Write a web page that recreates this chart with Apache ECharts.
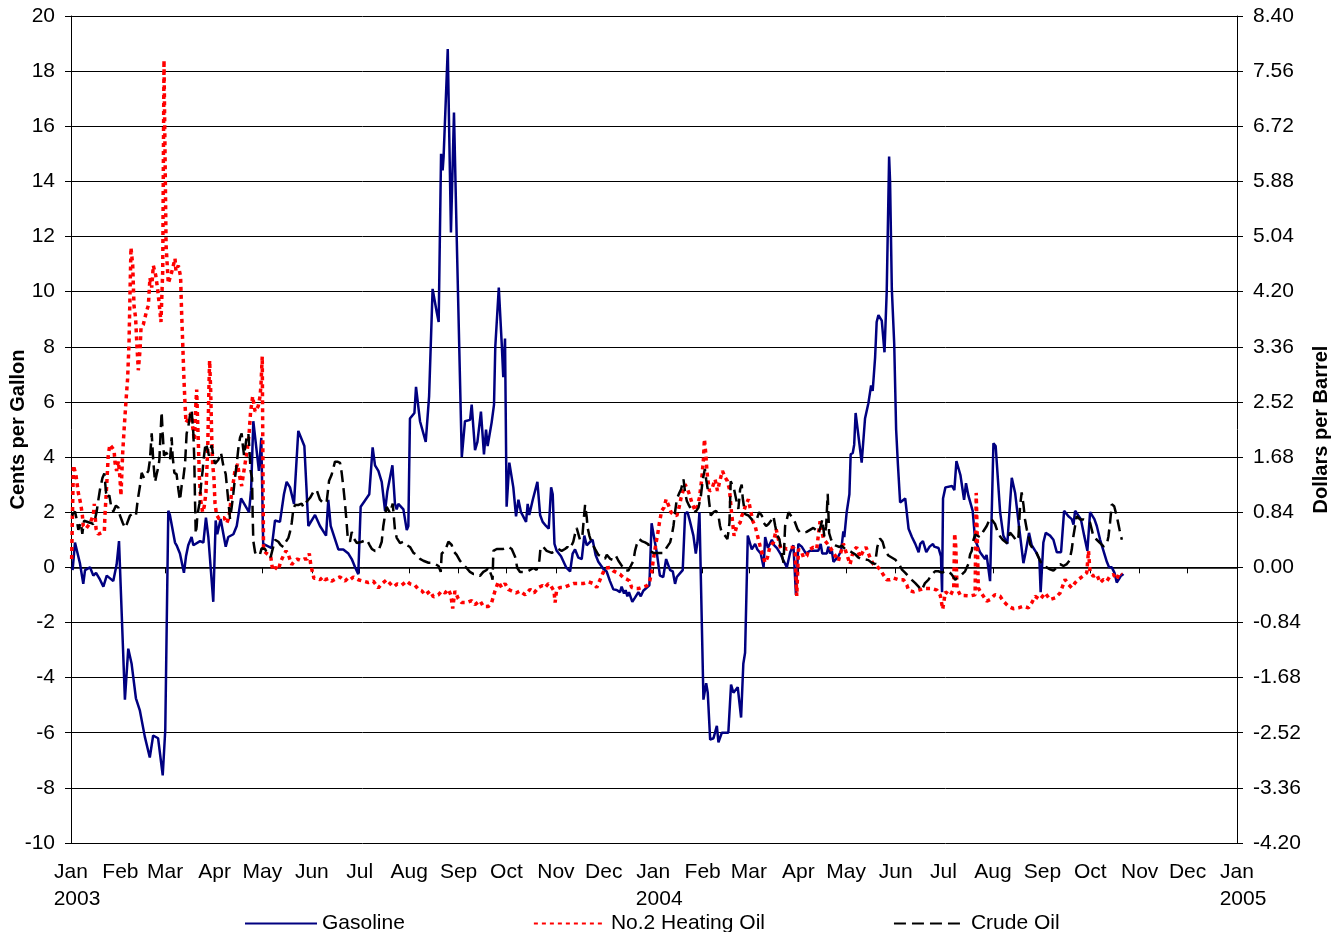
<!DOCTYPE html>
<html>
<head>
<meta charset="utf-8">
<script src="https://cdn.jsdelivr.net/npm/echarts@6/dist/echarts.min.js"></script>
<style>
  html, body { margin: 0; padding: 0; background: #fff; }
  #main { width: 1343px; height: 932px; }
</style>
</head>
<body>
<div id="main"></div>
<script>
// x = days since 1 Jan 2003
const monthNames = ["Jan", "Feb", "Mar", "Apr", "May", "Jun", "Jul", "Aug", "Sep", "Oct", "Nov", "Dec"];
const years = [2003, 2004, 2005];

// cents per gallon
const gasoline = [
  [1, -0.1], [2.5, 0.9], [5.6, 0.15], [7.7, -0.6], [8.8, -0.1], [11.9, 0.0], [13, 0.05], [14, -0.3], [15.7, -0.2],
  [18.2, -0.45], [20.3, -0.7], [22.4, -0.3], [24.5, -0.4], [26.5, -0.5], [28.6, 0.1], [30.1, 0.95], [31.1, 0.95],
  [33.8, -4.8], [35.9, -2.95], [38, -3.5], [40.7, -4.75], [43.2, -5.2], [46.3, -6.15], [49.4, -6.9], [51.5, -6.1],
  [54.6, -6.2], [57.5, -7.55], [59.1, -5.9], [61, 2.05], [62, 1.9], [65.2, 0.9], [66.2, 0.8], [68.3, 0.5], [70.8, -0.2],
  [72.1, 0.4], [73.5, 0.8], [75.6, 1.1], [76.7, 0.8], [80.9, 0.95], [83, 0.9], [84.6, 1.8], [86.1, 1.1], [89.2, -1.25],
  [90.7, 1.7], [91.7, 1.2], [93.8, 1.75], [97, 0.75], [98.6, 1.1], [101.8, 1.2], [103.9, 1.5], [106.6, 2.5], [111.6, 2.0],
  [112.9, 2.8], [114.3, 5.3], [117.8, 3.5], [119.3, 4.7], [120.5, 0.85], [125.8, 0.7], [127.9, 1.7], [131, 1.65],
  [133.5, 2.65], [135.2, 3.1], [137.3, 2.9], [139.8, 2.3], [142.5, 4.95], [146.3, 4.4], [148.8, 1.5], [153, 1.9],
  [156.1, 1.5], [159.9, 1.15], [161.3, 2.45], [162.8, 1.5], [167.6, 0.65], [170.7, 0.65], [173.9, 0.5], [176, 0.3],
  [178.1, 0.0], [180.1, -0.25], [181.6, 2.2], [184, 2.4], [187, 2.65], [189.1, 4.35], [190.6, 3.7], [192.7, 3.5],
  [194.8, 3.1], [196.9, 2.05], [198.3, 2.75], [201.5, 3.7], [203.1, 2.3], [204.2, 2.1], [205.2, 2.3], [208.4, 2.1],
  [210.5, 1.35], [211.5, 1.5], [212.5, 5.4], [215.3, 5.6], [216.3, 6.55], [218.8, 5.3], [222.4, 4.55], [224.5, 6.2],
  [226.7, 10.1], [229.3, 9.25], [230.5, 8.9], [232, 15.0], [233, 14.4], [233.6, 14.9], [236.2, 18.8], [238.2, 12.15],
  [240.1, 16.5], [241.8, 12.0], [245, 4.0], [247, 5.3], [250.2, 5.35], [251.2, 5.9], [253.3, 4.25], [254.8, 4.55],
  [257, 5.65], [258.9, 4.1], [260.2, 5.0], [261.2, 4.4], [263.7, 5.25], [265.2, 5.9], [266, 8.0], [268.2, 10.15],
  [270, 8.15], [271, 6.9], [272.1, 8.3], [273.1, 2.2], [274.8, 3.8], [277.3, 2.9], [279, 1.85], [280.5, 2.45],
  [282.1, 2.0], [285.3, 1.65], [286.3, 2.3], [287.3, 1.9], [289.5, 2.45], [292.4, 3.1], [294.1, 1.9], [295.7, 1.65],
  [297.8, 1.5], [299.5, 1.4], [301, 2.9], [302, 2.65], [303.1, 0.85], [304.5, 0.6], [307.2, 0.4], [310.4, 0.0],
  [312.9, -0.15], [314.5, 0.5], [316, 0.65], [318.1, 0.35], [320.2, 0.3], [321.8, 1.15], [323.3, 0.8], [325, 0.9],
  [327, 1.0], [328.9, 0.45], [330.6, 0.2], [333.7, -0.05], [335.8, -0.15], [337.9, -0.5], [340, -0.8], [342.1, -0.82],
  [344.2, -0.9], [345.2, -0.7], [346.7, -0.95], [347.7, -0.83], [348.8, -1.05], [349.8, -0.9], [351.9, -1.25],
  [353.6, -1.1], [355.7, -0.9], [357.2, -1.05], [358.8, -0.85], [362.6, -0.65], [364, 1.6], [367.2, 0.55], [369.2, -0.3],
  [371.3, -0.35], [373.1, 0.3], [375.6, -0.1], [377.3, -0.15], [378.7, -0.6], [379.8, -0.35], [383.5, -0.1], [385, 1.95],
  [386.5, 2.0], [387.7, 1.75], [390.2, 1.15], [391.7, 0.5], [392.7, 0.9], [394, 2.0], [396.5, -4.8], [398.2, -4.2],
  [399.2, -4.55], [400.7, -6.25], [402.8, -6.2], [404.9, -5.75], [405.9, -6.35], [408, -6.0], [412.1, -6.0],
  [413.8, -4.25], [415.3, -4.55], [418, -4.35], [420.1, -5.45], [421.5, -3.5], [422.6, -3.1], [424.3, 1.15],
  [425.3, 1.2], [426.8, 0.65], [428.9, 0.85], [430.3, 0.65], [432.4, 0.5], [434.2, 0.0], [435.2, 1.1], [436.9, 0.7],
  [439.4, 1.0], [440.9, 0.8], [442.6, 0.7], [444.7, 0.5], [446.2, 0.3], [448.8, 0.0], [450.9, 0.55], [452.9, 0.8],
  [454.5, -1.0], [456, 0.85], [458.1, 0.75], [460.8, 0.5], [463.3, 0.6], [468.5, 0.6], [470, 0.85], [471, 0.5],
  [473.8, 0.5], [474.8, 0.75], [475.9, 0.5], [477, 0.6], [478, 0.2], [481.1, 0.4], [482.8, 0.6], [484.2, 1.3],
  [484.8, 1.1], [486.3, 2.0], [488, 2.65], [488.8, 4.1], [490.1, 4.15], [491, 4.45], [491.9, 5.6], [493.6, 4.8],
  [495.7, 3.8], [497.8, 5.4], [499.9, 5.95], [501.6, 6.6], [502.6, 6.4], [504.1, 7.6], [505.1, 8.9], [506.2, 9.15],
  [508.3, 8.95], [510, 7.8], [511.4, 10.0], [512.9, 14.9], [513.5, 14.0], [514.6, 10.1], [516.1, 8.1], [517.3, 5.0],
  [518.4, 3.75], [519.8, 2.35], [523, 2.5], [525.1, 1.4], [527.2, 1.1], [529.3, 0.85], [531.4, 0.55], [532.4, 0.85],
  [534.1, 0.95], [536.2, 0.55], [538.3, 0.75], [540.4, 0.85], [541.2, 0.75], [543.9, 0.7], [545.4, 0.4], [546.1, -0.9],
  [546.7, 2.5], [548.2, 2.9], [552.4, 2.95], [553.8, 2.8], [555.1, 3.85], [557.6, 3.35], [559.9, 2.45], [561.1, 3.05],
  [562.6, 2.6], [565.3, 2.05], [566.8, 1.0], [569.9, 0.55], [573, 0.3], [574, 0.45], [576.2, -0.5], [578.3, 4.5],
  [579.7, 4.4], [582.5, 2.0], [584.5, 1.15], [587, 0.85], [589.8, 3.25], [591.9, 2.7], [594.3, 1.5], [597.1, 0.15],
  [598.5, 0.55], [600.6, 1.25], [602.3, 0.8], [605, 0.55], [607.1, 0.3], [607.9, -0.9], [609.6, 0.9], [611.1, 1.25],
  [613.8, 1.15], [615.9, 1.0], [618, 0.55], [620.7, 0.55], [622.6, 2.05], [625.3, 1.85], [627.4, 1.75], [628.5, 1.55],
  [629.5, 2.05], [630.5, 2.05], [633.1, 1.75], [635.2, 1.15], [637.2, 0.6], [638.9, 2.0], [641.6, 1.75], [643.1, 1.5],
  [645.2, 1.0], [647.3, 0.6], [649.4, 0.2], [650.8, 0.0], [652.5, 0.0], [654.2, -0.2], [655.6, -0.55], [657.3, -0.4],
  [658.8, -0.25], [659.8, -0.3]
];

// cents per gallon
const heatingOil = [
  [0.4, 0.3], [1.5, 3.7], [3.1, 3.35], [4.6, 2.7], [6.1, 2.3], [7.1, 1.9], [7.7, 1.5], [9.4, 1.4], [11.9, 1.6], [14, 1.9],
  [14.6, 2.3], [15.7, 1.4], [17.1, 1.2], [18.2, 1.15], [20.9, 1.3], [21.3, 1.9], [22.4, 3.0], [23.4, 4.1], [24.4, 4.45],
  [25.5, 4.5], [27, 4.25], [27.6, 3.8], [28.6, 3.5], [29.7, 3.85], [30.7, 3.25], [31.3, 2.6], [32.4, 4.15], [33.4, 5.1],
  [34.5, 6.05], [35.5, 6.85], [36.4, 8.2], [37, 9.95], [37.6, 11.6], [38.7, 10.95], [39.5, 9.5], [40.5, 9.05], [41.2, 8.2],
  [42.2, 7.15], [43.3, 7.9], [43.9, 8.7], [45.3, 8.8], [47.4, 9.3], [48.5, 9.5], [49.5, 10.5], [50.6, 10.15], [51.6, 10.95],
  [53.1, 10.6], [54.3, 10.1], [55.4, 9.5], [56.4, 8.9], [57.5, 10.75], [58.3, 18.4], [59.6, 11.7], [61, 10.3], [63.1, 10.7],
  [65.2, 11.2], [65.8, 10.75], [67.3, 10.95], [68.7, 10.55], [69.4, 9.15], [70, 8.2], [70.8, 6.85], [71.5, 5.9], [72.1, 5.25],
  [73.6, 5.4], [75.2, 5.6], [76.3, 5.1], [77.3, 4.6], [78.4, 6.05], [78.8, 6.45], [79.2, 5.65], [79.8, 4.6], [80.5, 3.25],
  [81.3, 2.45], [82.5, 2.0], [83.5, 2.2], [84.6, 2.7], [85.7, 4.3], [86.5, 6.6], [86.9, 7.5], [87.6, 6.35], [88.2, 4.75],
  [88.8, 3.75], [89.6, 3.25], [90.3, 2.3], [91.3, 1.9], [92.9, 1.75], [94.5, 1.8], [96, 1.8], [97.6, 1.6], [98.6, 1.75],
  [99.7, 2.1], [100.8, 2.8], [101.8, 3.1], [102.8, 3.5], [104.5, 3.75], [105.3, 3.4], [107, 2.95], [108, 3.35], [109.1, 3.75],
  [110.6, 4.3], [111.6, 4.8], [112.6, 5.65], [113.9, 6.2], [115.4, 5.65], [116.4, 5.7], [117.4, 5.85], [118.5, 6.2],
  [119.1, 6.6], [119.5, 7.15], [119.9, 7.65], [120.3, 4.0], [120.7, 0.6], [122.7, 0.5], [125.2, 0.4], [126.4, -0.1],
  [128, 0.0], [130, -0.1], [131.4, 0.2], [133, 0.4], [134.8, 0.6], [136.3, 0.45], [138.4, 0.1], [140.5, 0.25], [141.9, 0.3],
  [144, 0.25], [146.1, 0.3], [148, 0.3], [149.4, 0.5], [150.3, 0.1], [152.3, -0.4], [154, -0.4], [156.1, -0.45], [158, -0.35],
  [159.2, -0.45], [161.5, -0.4], [163.4, -0.5], [165, -0.45], [166.6, -0.4], [168.7, -0.35], [171.8, -0.5], [173.5, -0.4],
  [174.9, -0.45], [177, -0.35], [180.1, -0.45], [183, -0.5], [186.4, -0.55], [189.5, -0.5], [192.7, -0.75], [194.8, -0.6],
  [197.9, -0.45], [201, -0.65], [202.5, -0.7], [204.5, -0.6], [207.3, -0.65], [210.4, -0.5], [212.5, -0.6], [215.6, -0.65],
  [217.8, -0.8], [219.9, -0.85], [222, -1.0], [225.1, -0.86], [227.2, -1.07], [230.3, -1.0], [232.4, -0.86], [234.5, -0.93],
  [236.6, -0.8], [238.1, -1.0], [239.3, -1.49], [240.7, -0.86], [242.8, -1.14], [244.9, -1.28], [248.1, -1.28],
  [251.2, -1.21], [253.3, -1.35], [256.4, -1.21], [258.5, -1.42], [261.6, -1.42], [263.7, -1.28], [265.8, -0.86],
  [267.9, -0.52], [270, -0.73], [272.1, -0.59], [274.2, -0.8], [276.3, -0.86], [279, -0.93], [281.5, -0.86], [284.7, -1.0],
  [287.8, -0.8], [290.3, -0.93], [293, -0.73], [295.7, -0.66], [297.2, -0.73], [299.3, -0.59], [300.7, -0.66],
  [302.8, -0.86], [303.5, -1.28], [304.5, -0.8], [306.6, -0.73], [308.7, -0.73], [311.8, -0.66], [315, -0.59],
  [318.1, -0.59], [321.2, -0.59], [324.4, -0.52], [327.5, -0.59], [329.6, -0.73], [332.7, -0.31], [334.8, -0.03],
  [337.9, -0.01], [340, -0.13], [342.1, -0.19], [344.2, -0.25], [346.3, -0.37], [348.4, -0.43], [350.1, -0.49],
  [351.5, -0.73], [353.6, -0.77], [355.7, -0.77], [357.8, -0.73], [360.9, -0.67], [362.6, -0.55], [364, -0.19],
  [365.1, 0.29], [366.8, 0.9], [367.8, 1.2], [368.9, 1.62], [370.3, 2.05], [371.8, 2.17], [373.1, 2.47], [373.9, 2.35],
  [375.2, 2.17], [376.2, 1.99], [377.7, 1.93], [378.7, 1.99], [379.8, 1.87], [381.2, 2.17], [382.5, 2.53], [385, 3.01],
  [386.5, 2.83], [387.7, 2.65], [389.2, 2.35], [391.3, 2.05], [392.7, 2.23], [394, 2.53], [395.4, 3.19], [396.5, 3.92],
  [397.1, 4.65], [398, 4.1], [398.6, 3.56], [399.2, 3.19], [400.3, 2.77], [401.7, 2.83], [403.8, 3.19], [405.3, 2.77],
  [407, 3.19], [408.4, 3.5], [410.1, 3.26], [411.5, 3.13], [412.8, 2.83], [413.8, 2.17], [414.9, 1.56], [415.7, 1.14],
  [417.4, 1.5], [419.5, 1.62], [420.5, 1.86], [421.5, 1.99], [423.2, 2.29], [424.7, 2.47], [425.7, 2.17], [427.4, 1.68],
  [428.9, 1.5], [429.9, 1.26], [432, 0.78], [433.7, 0.41], [435.2, 0.17], [436.6, 0.35], [438.3, 0.78], [440.4, 0.9],
  [442.1, 1.38], [443.5, 1.02], [445, 0.66], [446.7, 0.72], [448.8, 0.66], [450.9, 0.72], [453, 0.72], [454, 0.53],
  [455, -1.04], [456.1, 0.66], [458.2, 0.53], [459.2, 0.36], [461.3, 0.41], [462.3, 0.61], [465.4, 0.73], [467.5, 0.67],
  [469.6, 1.67], [470.6, 1.35], [471.7, 1.04], [475.9, 0.73], [481.1, 0.23], [484.2, 0.86], [486.3, 0.48], [488.4, 0.11],
  [490.5, 0.61], [492.6, 0.73], [494.7, 0.36], [496.8, 0.61], [498.4, 0.73], [500.9, 0.36], [503, 0.11], [505.1, 0.05],
  [507.2, -0.08], [509.3, -0.27], [511.4, -0.45], [513.5, -0.45], [515.6, -0.39], [518.7, -0.45], [521.9, -0.45],
  [524, -0.64], [525.1, -0.83], [528.2, -0.89], [531.4, -0.83], [534.5, -0.77], [537.7, -0.77], [539.8, -0.77],
  [542.9, -0.83], [545, -1.02], [546.5, -1.52], [548.2, -0.89], [551.3, -1.02], [553.4, -0.77], [554, 1.23], [554.7, 0.73],
  [555.5, -0.77], [557.6, -1.02], [559.7, -1.02], [563.6, -1.04], [566.8, -1.0], [567.5, 2.7], [568.2, 1.0], [568.8, -0.75],
  [570.9, -0.95], [574.1, -1.23], [576.2, -1.17], [579.3, -0.99], [582.5, -1.05], [584.5, -1.23], [587.7, -1.41],
  [590.8, -1.5], [594, -1.47], [597.1, -1.41], [600.3, -1.47], [602.3, -1.29], [604.4, -1.05], [607.5, -1.17],
  [610.7, -0.93], [613.8, -1.17], [617, -1.11], [620.1, -0.93], [623.2, -0.44], [625.3, -0.62], [627.4, -0.74],
  [629.5, -0.56], [631.6, -0.44], [634.3, -0.32], [636.8, -0.2], [637.9, 0.6], [638.9, -0.2], [641, -0.32], [643.1, -0.26],
  [645.2, -0.56], [647.3, -0.44], [649.4, -0.5], [651.4, -0.32], [653.5, -0.26], [655.6, -0.44], [657.3, -0.2], [658.8, -0.26]
];

// dollars per barrel (right axis)
const crudeOil = [
  [0.4, 0.79], [2.5, 0.85], [3.5, 0.74], [4.6, 0.57], [6.1, 0.68], [7.1, 0.51], [8.2, 0.71], [11.9, 0.68], [14, 0.66],
  [15.1, 0.74], [16.1, 0.85], [17.1, 1.02], [18.2, 1.19], [19.7, 1.36], [20.9, 1.43], [22, 1.13], [23, 1.05], [24, 1.10],
  [25.1, 0.94], [26.5, 0.85], [28.2, 0.94], [29.7, 0.91], [30.7, 0.79], [32.4, 0.68], [33.9, 0.60], [35, 0.66], [37, 0.79],
  [39.1, 0.82], [40.7, 0.79], [41.8, 1.02], [43.3, 1.25], [44.3, 1.44], [45.8, 1.36], [48.5, 1.47], [49.5, 1.64], [50.6, 2.04],
  [51.6, 1.61], [52.7, 1.30], [53.7, 1.42], [54.8, 1.53], [55.4, 1.64], [56.2, 2.06], [56.8, 2.37], [57.5, 2.04], [58.3, 1.70],
  [59.6, 1.75], [61, 1.70], [62.1, 1.64], [63.1, 1.98], [63.7, 1.70], [64.8, 1.44], [66.2, 1.42], [67.3, 1.19], [68.3, 1.02],
  [69.4, 1.25], [70.4, 1.36], [71.5, 1.58], [72.5, 2.04], [73.6, 2.15], [74.6, 2.32], [75.6, 2.40], [76.7, 2.04], [77.3, 1.64],
  [77.7, 1.08], [78.2, 0.51], [78.8, 0.63], [79.2, 0.79], [80.5, 0.97], [81.5, 1.25], [82.5, 1.47], [83.4, 1.70], [84.4, 1.89],
  [85.5, 1.81], [86.5, 1.70], [87.6, 1.81], [88.2, 1.86], [89.2, 1.70], [90.3, 1.58], [92.4, 1.64], [94, 1.75], [95.5, 1.55],
  [97, 1.42], [98.6, 1.02], [99.7, 0.74], [100.7, 0.91], [101.8, 1.13], [102.8, 1.36], [103.9, 1.58], [104.9, 1.81],
  [106, 1.98], [107, 2.04], [107.7, 1.86], [108.5, 1.70], [109.1, 1.81], [110.1, 1.98], [111.2, 2.04], [111.8, 1.81],
  [112.6, 1.47], [113.5, 1.36], [113.9, 0.79], [114.3, 0.40], [115.4, 0.23], [116.4, 0.18], [117.4, 0.15], [118.5, 0.20],
  [119.5, 0.29], [120.5, 0.26], [121.6, 0.28], [123.7, 0.19], [125.2, 0.16], [127.9, 0.42], [130, 0.39], [131.4, 0.34],
  [133.1, 0.31], [134.2, 0.37], [136.3, 0.45], [137.3, 0.54], [138.4, 0.68], [139.4, 0.89], [140.5, 0.95], [142.5, 0.95],
  [144.6, 0.97], [145.7, 0.92], [146.7, 0.97], [147.8, 1.00], [149.9, 1.06], [152, 1.15], [154, 1.18], [156.1, 1.03],
  [158.6, 0.97], [160.3, 1.00], [161.8, 1.32], [163.4, 1.41], [165.5, 1.61], [167, 1.61], [168.7, 1.59], [169.7, 1.44],
  [170.8, 1.21], [171.8, 0.97], [172.8, 0.68], [173.5, 0.45], [174.9, 0.39], [176, 0.54], [177, 0.45], [179.2, 0.37],
  [182.3, 0.39], [183.4, 0.37], [185.5, 0.42], [187.2, 0.34], [188.6, 0.28], [190.6, 0.25], [192.7, 0.25], [194.8, 0.39],
  [195.8, 0.63], [196.9, 0.80], [197.9, 0.92], [200, 0.83], [201.7, 0.97], [202.5, 0.74], [203.1, 0.57], [204.2, 0.45],
  [206.3, 0.37], [208.4, 0.39], [210.5, 0.34], [212.5, 0.31], [214.7, 0.22], [216.7, 0.19], [218.8, 0.13], [220.9, 0.10],
  [224.1, 0.07], [226.2, 0.07], [228.3, 0.05], [230.4, 0.02], [231.8, -0.07], [232.4, 0.21], [234.5, 0.25], [236.6, 0.39],
  [237.6, 0.42], [238.7, 0.34], [239.7, 0.25], [241.8, 0.19], [243.9, 0.10], [245.9, 0.04], [248, -0.01], [250.1, -0.07],
  [252.2, -0.10], [254.3, -0.10], [256.4, -0.13], [258.5, -0.07], [260.6, -0.04], [261.6, 0.00], [263.7, -0.13],
  [264.3, -0.19], [264.8, 0.25], [266.9, 0.28], [269, 0.28], [271, 0.28], [274.2, 0.31], [276.3, 0.28], [278.4, 0.16],
  [279.8, -0.01], [281.5, -0.07], [283.6, -0.07], [285.7, -0.07], [287.8, -0.04], [289.9, -0.01], [291.9, -0.04],
  [293.6, 0.10], [294.4, 0.31], [296.1, 0.31], [298.2, 0.25], [299.3, 0.22], [301.4, 0.22], [303.5, 0.25], [305.5, 0.28],
  [307.6, 0.25], [309.7, 0.28], [311.2, 0.31], [312.8, 0.28], [314.9, 0.39], [316, 0.51], [317, 0.60], [318.1, 0.57],
  [319.1, 0.42], [320.6, 0.48], [321.6, 0.77], [322.3, 0.95], [323.3, 0.77], [323.9, 0.60], [325, 0.48], [326.5, 0.37],
  [328.5, 0.28], [330.6, 0.19], [332.7, 0.16], [334.8, 0.13], [335.9, 0.19], [338, 0.13], [340, 0.11], [341.7, 0.17],
  [343.2, 0.10], [344.2, 0.07], [347.3, -0.05], [349.4, -0.05], [350.9, 0.02], [352.6, 0.10], [353.6, 0.25], [354.7, 0.35],
  [356.3, 0.43], [357.8, 0.40], [359.9, 0.38], [362, 0.35], [363, 0.25], [365.1, 0.22], [369.2, 0.22], [371.3, 0.22],
  [372.4, 0.25], [373.4, 0.30], [375.6, 0.38], [376.6, 0.48], [377.7, 0.63], [378.7, 0.84], [379.8, 1.04], [381.5, 1.14],
  [382.5, 1.19], [384, 1.34], [385, 1.14], [386.1, 1.01], [387.1, 0.96], [388.2, 0.91], [389.2, 0.86], [390.7, 0.84],
  [392, 0.86], [393.4, 0.91], [394.9, 1.09], [396.1, 1.34], [397.4, 1.50], [398.2, 1.34], [399.2, 1.19], [400.1, 0.99],
  [401.1, 0.79], [402.8, 0.84], [404.4, 0.86], [405.9, 0.79], [406.9, 0.63], [408, 0.53], [410.1, 0.48], [411.5, 0.43],
  [412.1, 0.53], [412.8, 0.68], [413.6, 1.31], [414.6, 1.34], [415.7, 1.19], [417.4, 0.99], [418.4, 0.89], [419.5, 1.19],
  [420.5, 1.26], [421.1, 1.06], [422.6, 0.81], [424.7, 0.79], [426.8, 0.73], [428.2, 0.71], [429.9, 0.73], [431.4, 0.84],
  [433.1, 0.79], [434.2, 0.68], [435.8, 0.63], [437.3, 0.66], [439.4, 0.73], [440.4, 0.78], [441.5, 0.63], [442.9, 0.48],
  [444.1, 0.43], [445.6, 0.20], [446.7, 0.07], [447.7, 0.63], [448.8, 0.73], [449.8, 0.84], [450.9, 0.83], [452.5, 0.75],
  [454, 0.68], [455.5, 0.58], [457.1, 0.53], [459.2, 0.53], [461.2, 0.54], [463.3, 0.57], [465.4, 0.60], [467.1, 0.57],
  [468.5, 0.52], [470, 0.62], [471, 0.73], [472.3, 0.47], [473.4, 0.62], [474.4, 1.12], [475.3, 0.52], [476.3, 0.44],
  [477.6, 0.36], [479.6, 0.33], [481.8, 0.31], [483.2, 0.33], [485.3, 0.28], [487.4, 0.26], [489.5, 0.23], [491.5, 0.20],
  [493.6, 0.15], [495.7, 0.12], [497.8, 0.12], [499.9, 0.11], [502, 0.07], [504.1, 0.05], [505.5, 0.31], [507.2, 0.44],
  [508.8, 0.39], [510.3, 0.26], [512.4, 0.18], [514.5, 0.15], [516.6, 0.12], [518.7, 0.07], [520.8, -0.03], [522.9, -0.08],
  [525.1, -0.14], [527.1, -0.19], [529.3, -0.24], [531.2, -0.29], [533.3, -0.35], [535.4, -0.24], [537.5, -0.19],
  [539.6, -0.11], [541.7, -0.06], [543.8, -0.06], [546, -0.08], [548, -0.06], [550.1, -0.06], [552.2, -0.11], [554.3, -0.19],
  [556.3, -0.14], [558.4, -0.11], [560.5, -0.06], [561.5, -0.03], [562.6, 0.05], [563.7, 0.20], [564.7, 0.25], [565.8, 0.42],
  [566.8, 0.50], [567.9, 0.49], [569.9, 0.46], [572, 0.55], [574.1, 0.63], [576.2, 0.75], [577.8, 0.71], [579.3, 0.66],
  [580.8, 0.55], [582.5, 0.47], [584.1, 0.42], [586.7, 0.37], [588.7, 0.53], [590.8, 0.47], [592.9, 0.40], [594, 0.47],
  [595, 0.93], [596, 1.14], [597.1, 0.96], [598.1, 0.73], [599.2, 0.58], [600.3, 0.47], [601.3, 0.35], [603.4, 0.27],
  [605.4, 0.22], [607.5, 0.10], [609.6, 0.02], [611.7, 0.00], [613.8, -0.03], [615.9, -0.05], [618, 0.00], [620.1, 0.05],
  [622.2, 0.02], [624.3, 0.05], [625.9, 0.10], [627.4, 0.27], [628.4, 0.47], [629.5, 0.63], [630.5, 0.78], [632.6, 0.73],
  [634.7, 0.73], [636.8, 0.71], [638.9, 0.68], [641, 0.47], [643.1, 0.42], [645.2, 0.37], [647.3, 0.32], [649.4, 0.35],
  [650.4, 0.47], [651.4, 0.68], [652.5, 0.96], [654, 0.93], [655.6, 0.78], [657.3, 0.58], [658.8, 0.42]
];

const DAY = 86400000;
const origin = Date.UTC(2003, 0, 1);
const monthStarts = [];
for (let i = 0; i <= 24; i++) {
  monthStarts.push(Math.round((Date.UTC(2003, i, 1) - origin) / DAY));
}

const font = "'Liberation Sans', Arial, sans-serif";

const option = {
  backgroundColor: "#fff",
  animation: false,
  textStyle: { fontFamily: font },
  grid: { left: 71, right: 106, top: 16, bottom: 89, containLabel: false, outerBoundsMode: "none" },
  legend: {
    left: 239,
    top: 908,
    itemWidth: 72,
    itemHeight: 14,
    itemGap: 128,
    itemStyle: { opacity: 0 },
    textStyle: { fontSize: 21, color: "#000", fontFamily: font },
    data: ["Gasoline", "No.2 Heating Oil", "Crude Oil"]
  },
  xAxis: {
    type: "value",
    min: 0,
    max: monthStarts[monthStarts.length - 1],
    axisLine: { lineStyle: { color: "#000", width: 1.5 } },
    splitLine: { show: false },
    axisTick: { customValues: monthStarts, length: 6, lineStyle: { color: "#000" } },
    axisLabel: {
      customValues: monthStarts,
      showMinLabel: true,
      showMaxLabel: true,
      hideOverlap: false,
      margin: 16,
      color: "#000",
      fontSize: 21,
      lineHeight: 27,
      fontFamily: font,
      formatter: function (v) {
        const i = monthStarts.indexOf(v);
        const m = i % 12;
        if (m === 0) {
          return "{m|" + monthNames[m] + "}\n{y|" + years[i / 12] + "}";
        }
        return monthNames[m];
      },
      rich: {
        m: { fontSize: 21, lineHeight: 27, fontFamily: font, color: "#000" },
        y: { fontSize: 21, lineHeight: 27, fontFamily: font, color: "#000", padding: [0, 0, 0, 12] }
      }
    }
  },
  yAxis: [
    {
      type: "value",
      min: -10,
      max: 20,
      interval: 2,
      name: "Cents per Gallon",
      nameLocation: "middle",
      nameRotate: 90,
      nameGap: 43,
      nameMoveOverlap: false,
      nameTextStyle: { fontSize: 20, fontWeight: "bold", color: "#000", fontFamily: font },
      axisLine: { show: true, lineStyle: { color: "#000", width: 1 } },
      axisTick: { show: true, length: 6, lineStyle: { color: "#000" } },
      axisLabel: { margin: 16, fontSize: 21, color: "#000", fontFamily: font },
      splitLine: { show: true, lineStyle: { color: "#000", width: 1 } }
    },
    {
      type: "value",
      position: "right",
      min: -4.2,
      max: 8.4,
      interval: 0.84,
      name: "Dollars per Barrel",
      nameLocation: "middle",
      nameRotate: 90,
      nameGap: 74,
      nameMoveOverlap: false,
      nameTextStyle: { fontSize: 20, fontWeight: "bold", color: "#000", fontFamily: font },
      axisLine: { show: true, lineStyle: { color: "#000", width: 1 } },
      axisTick: { show: true, length: 6, lineStyle: { color: "#000" } },
      axisLabel: {
        margin: 16,
        fontSize: 21,
        color: "#000",
        fontFamily: font,
        formatter: function (v) { return v.toFixed(2); }
      },
      splitLine: { show: false }
    }
  ],
  series: [
    {
      name: "Gasoline",
      type: "line",
      data: gasoline,
      symbol: "none",
      color: "#000080",
      lineStyle: { color: "#000080", width: 2.5 }
    },
    {
      name: "No.2 Heating Oil",
      type: "line",
      data: heatingOil,
      symbol: "none",
      color: "#ff0000",
      lineStyle: { color: "#ff0000", width: 3.5, type: [4, 4] }
    },
    {
      name: "Crude Oil",
      type: "line",
      yAxisIndex: 1,
      data: crudeOil,
      symbol: "none",
      color: "#000000",
      lineStyle: { color: "#000000", width: 2.5, type: [12, 6] }
    }
  ]
};

const chart = echarts.init(document.getElementById("main"));
chart.setOption(option);
</script>
</body>
</html>
